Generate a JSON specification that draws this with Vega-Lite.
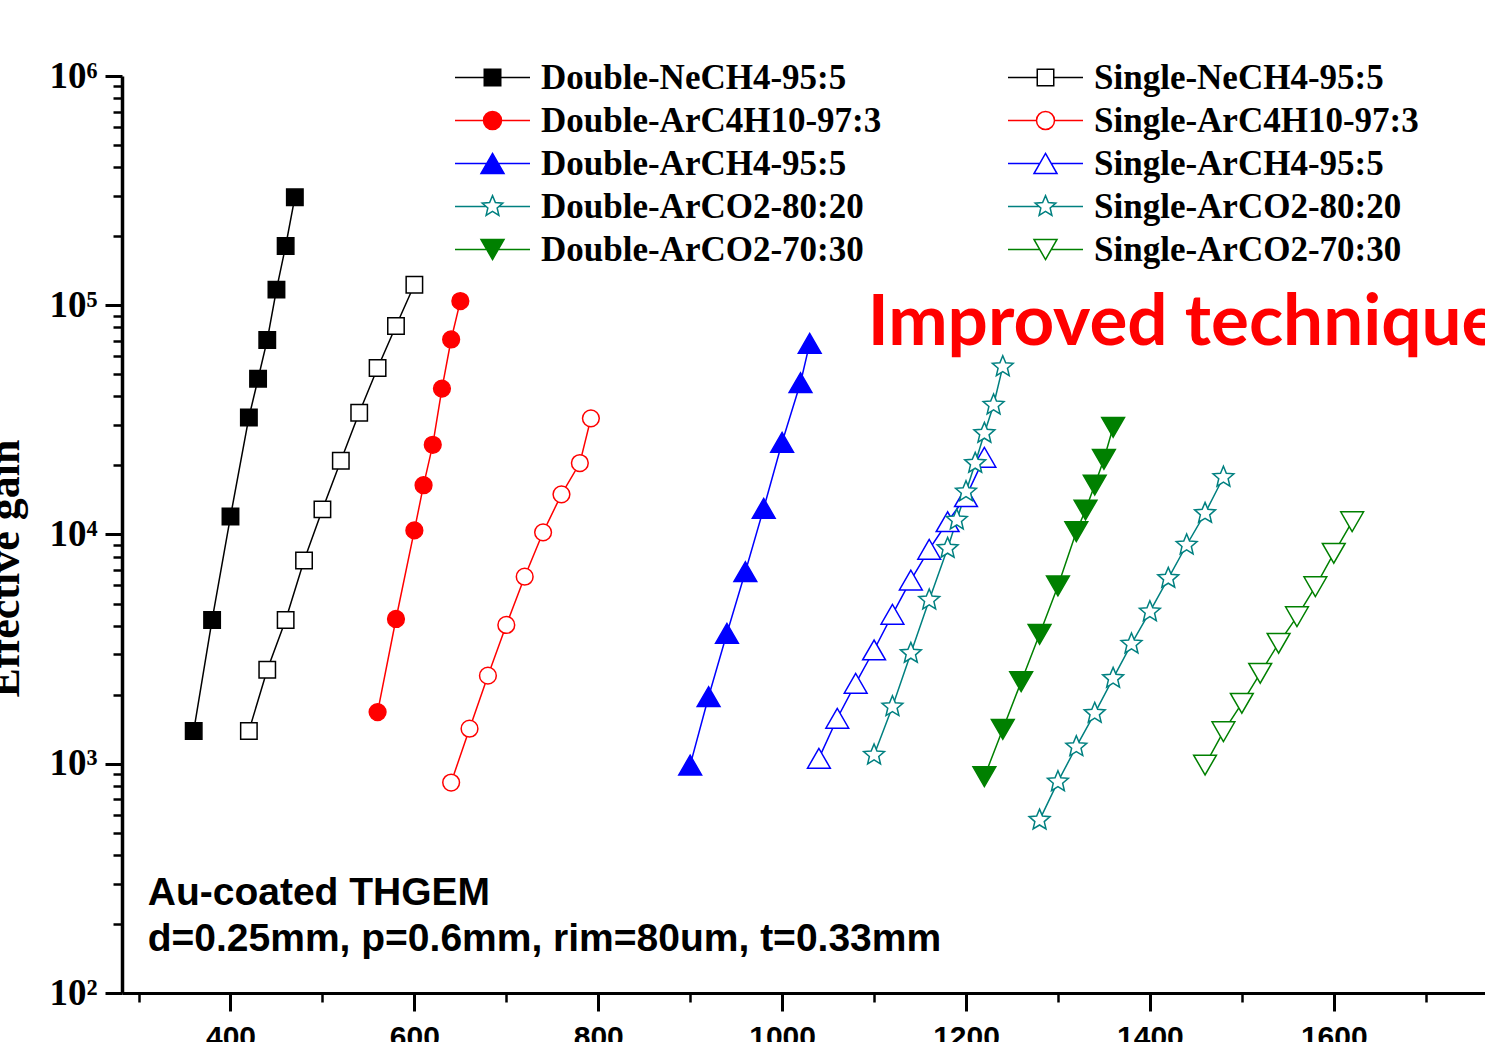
{
  "$schema": "https://vega.github.io/schema/vega-lite/v6.json",
  "autosize": {"type": "none"},
  "padding": {"left": 122, "top": 76, "right": 0, "bottom": 49},
  "width": 1363,
  "height": 917,
  "background": "white",
  "config": {"view": {"stroke": null}},
  "datasets": {
    "gain": [
      {"series": "Double-NeCH4-95:5", "voltage": 360, "gain": 1390},
      {"series": "Double-NeCH4-95:5", "voltage": 380, "gain": 4240},
      {"series": "Double-NeCH4-95:5", "voltage": 400, "gain": 11980},
      {"series": "Double-NeCH4-95:5", "voltage": 420, "gain": 32400},
      {"series": "Double-NeCH4-95:5", "voltage": 430, "gain": 47800},
      {"series": "Double-NeCH4-95:5", "voltage": 440, "gain": 70600},
      {"series": "Double-NeCH4-95:5", "voltage": 450, "gain": 117000},
      {"series": "Double-NeCH4-95:5", "voltage": 460, "gain": 181300},
      {"series": "Double-NeCH4-95:5", "voltage": 470, "gain": 295800},
      {"series": "Single-NeCH4-95:5", "voltage": 420, "gain": 1390},
      {"series": "Single-NeCH4-95:5", "voltage": 440, "gain": 2570},
      {"series": "Single-NeCH4-95:5", "voltage": 460, "gain": 4240},
      {"series": "Single-NeCH4-95:5", "voltage": 480, "gain": 7700},
      {"series": "Single-NeCH4-95:5", "voltage": 500, "gain": 12870},
      {"series": "Single-NeCH4-95:5", "voltage": 520, "gain": 20980},
      {"series": "Single-NeCH4-95:5", "voltage": 540, "gain": 33990},
      {"series": "Single-NeCH4-95:5", "voltage": 560, "gain": 53240},
      {"series": "Single-NeCH4-95:5", "voltage": 580, "gain": 81200},
      {"series": "Single-NeCH4-95:5", "voltage": 600, "gain": 122800},
      {"series": "Double-ArC4H10-97:3", "voltage": 560, "gain": 1680},
      {"series": "Double-ArC4H10-97:3", "voltage": 580, "gain": 4280},
      {"series": "Double-ArC4H10-97:3", "voltage": 600, "gain": 10420},
      {"series": "Double-ArC4H10-97:3", "voltage": 610, "gain": 16410},
      {"series": "Double-ArC4H10-97:3", "voltage": 620, "gain": 24620},
      {"series": "Double-ArC4H10-97:3", "voltage": 630, "gain": 43290},
      {"series": "Double-ArC4H10-97:3", "voltage": 640, "gain": 70900},
      {"series": "Double-ArC4H10-97:3", "voltage": 650, "gain": 104300},
      {"series": "Single-ArC4H10-97:3", "voltage": 640, "gain": 828},
      {"series": "Single-ArC4H10-97:3", "voltage": 660, "gain": 1422},
      {"series": "Single-ArC4H10-97:3", "voltage": 680, "gain": 2422},
      {"series": "Single-ArC4H10-97:3", "voltage": 700, "gain": 4030},
      {"series": "Single-ArC4H10-97:3", "voltage": 720, "gain": 6544},
      {"series": "Single-ArC4H10-97:3", "voltage": 740, "gain": 10220},
      {"series": "Single-ArC4H10-97:3", "voltage": 760, "gain": 14970},
      {"series": "Single-ArC4H10-97:3", "voltage": 780, "gain": 20500},
      {"series": "Single-ArC4H10-97:3", "voltage": 792, "gain": 32120},
      {"series": "Double-ArCH4-95:5", "voltage": 900, "gain": 987},
      {"series": "Double-ArCH4-95:5", "voltage": 920, "gain": 1961},
      {"series": "Double-ArCH4-95:5", "voltage": 940, "gain": 3707},
      {"series": "Double-ArCH4-95:5", "voltage": 960, "gain": 6880},
      {"series": "Double-ArCH4-95:5", "voltage": 980, "gain": 13010},
      {"series": "Double-ArCH4-95:5", "voltage": 1000, "gain": 25250},
      {"series": "Double-ArCH4-95:5", "voltage": 1020, "gain": 45940},
      {"series": "Double-ArCH4-95:5", "voltage": 1030, "gain": 68230},
      {"series": "Single-ArCH4-95:5", "voltage": 1040, "gain": 1056},
      {"series": "Single-ArCH4-95:5", "voltage": 1060, "gain": 1579},
      {"series": "Single-ArCH4-95:5", "voltage": 1080, "gain": 2243},
      {"series": "Single-ArCH4-95:5", "voltage": 1100, "gain": 3135},
      {"series": "Single-ArCH4-95:5", "voltage": 1120, "gain": 4486},
      {"series": "Single-ArCH4-95:5", "voltage": 1140, "gain": 6330},
      {"series": "Single-ArCH4-95:5", "voltage": 1160, "gain": 8620},
      {"series": "Single-ArCH4-95:5", "voltage": 1180, "gain": 11370},
      {"series": "Single-ArCH4-95:5", "voltage": 1200, "gain": 14620},
      {"series": "Single-ArCH4-95:5", "voltage": 1220, "gain": 21710},
      {"series": "Double-ArCO2-80:20", "voltage": 1100, "gain": 1092},
      {"series": "Double-ArCO2-80:20", "voltage": 1120, "gain": 1774},
      {"series": "Double-ArCO2-80:20", "voltage": 1140, "gain": 3032},
      {"series": "Double-ArCO2-80:20", "voltage": 1160, "gain": 5178},
      {"series": "Double-ArCO2-80:20", "voltage": 1180, "gain": 8705},
      {"series": "Double-ArCO2-80:20", "voltage": 1190, "gain": 11570},
      {"series": "Double-ArCO2-80:20", "voltage": 1200, "gain": 15370},
      {"series": "Double-ArCO2-80:20", "voltage": 1210, "gain": 20440},
      {"series": "Double-ArCO2-80:20", "voltage": 1220, "gain": 27630},
      {"series": "Double-ArCO2-80:20", "voltage": 1230, "gain": 36720},
      {"series": "Double-ArCO2-80:20", "voltage": 1240, "gain": 53950},
      {"series": "Single-ArCO2-80:20", "voltage": 1280, "gain": 568},
      {"series": "Single-ArCO2-80:20", "voltage": 1300, "gain": 835},
      {"series": "Single-ArCO2-80:20", "voltage": 1320, "gain": 1187},
      {"series": "Single-ArCO2-80:20", "voltage": 1340, "gain": 1660},
      {"series": "Single-ArCO2-80:20", "voltage": 1360, "gain": 2359},
      {"series": "Single-ArCO2-80:20", "voltage": 1380, "gain": 3330},
      {"series": "Single-ArCO2-80:20", "voltage": 1400, "gain": 4605},
      {"series": "Single-ArCO2-80:20", "voltage": 1420, "gain": 6440},
      {"series": "Single-ArCO2-80:20", "voltage": 1440, "gain": 9000},
      {"series": "Single-ArCO2-80:20", "voltage": 1460, "gain": 12370},
      {"series": "Single-ArCO2-80:20", "voltage": 1480, "gain": 17770},
      {"series": "Double-ArCO2-70:30", "voltage": 1220, "gain": 878},
      {"series": "Double-ArCO2-70:30", "voltage": 1240, "gain": 1413},
      {"series": "Double-ArCO2-70:30", "voltage": 1260, "gain": 2279},
      {"series": "Double-ArCO2-70:30", "voltage": 1280, "gain": 3669},
      {"series": "Double-ArCO2-70:30", "voltage": 1300, "gain": 5962},
      {"series": "Double-ArCO2-70:30", "voltage": 1320, "gain": 10290},
      {"series": "Double-ArCO2-70:30", "voltage": 1330, "gain": 12790},
      {"series": "Double-ArCO2-70:30", "voltage": 1340, "gain": 16440},
      {"series": "Double-ArCO2-70:30", "voltage": 1350, "gain": 21280},
      {"series": "Double-ArCO2-70:30", "voltage": 1360, "gain": 29350},
      {"series": "Single-ArCO2-70:30", "voltage": 1460, "gain": 987},
      {"series": "Single-ArCO2-70:30", "voltage": 1480, "gain": 1380},
      {"series": "Single-ArCO2-70:30", "voltage": 1500, "gain": 1835},
      {"series": "Single-ArCO2-70:30", "voltage": 1520, "gain": 2480},
      {"series": "Single-ArCO2-70:30", "voltage": 1540, "gain": 3353},
      {"series": "Single-ArCO2-70:30", "voltage": 1560, "gain": 4379},
      {"series": "Single-ArCO2-70:30", "voltage": 1580, "gain": 5921},
      {"series": "Single-ArCO2-70:30", "voltage": 1600, "gain": 8279},
      {"series": "Single-ArCO2-70:30", "voltage": 1620, "gain": 11370}
    ]
  },
  "data": {"name": "gain"},
  "resolve": {"axis": {"x": "independent", "y": "independent"}},
  "layer": [
    {
      "mark": {"type": "line", "strokeWidth": 1.5},
      "encoding": {
        "x": {
          "field": "voltage", "type": "quantitative",
          "scale": {"domain": [282, 1764.5], "nice": false, "zero": false},
          "axis": {
            "orient": "bottom", "title": null, "grid": false, "format": "d",
            "values": [400, 600, 800, 1000, 1200, 1400, 1600],
            "domainColor": "black", "domainWidth": 3,
            "tickColor": "black", "tickSize": 18, "tickWidth": 3,
            "labelFont": "Liberation Sans", "labelFontWeight": "bold", "labelFontSize": 30,
            "labelColor": "black", "labelPadding": 11, "labelFlush": false, "labelOverlap": false
          }
        },
        "y": {
          "field": "gain", "type": "quantitative",
          "scale": {"type": "log", "domain": [100, 1000000], "nice": false},
          "axis": {
            "orient": "left", "grid": false,
            "values": [100, 1000, 10000, 100000, 1000000],
            "labelExpr": "'10' + ['⁰','¹','²','³','⁴','⁵','⁶'][round(log(datum.value)/LN10)]",
            "domainColor": "black", "domainWidth": 3.5,
            "tickColor": "black", "tickSize": 17, "tickWidth": 3,
            "labelFont": "Liberation Serif", "labelFontWeight": "bold", "labelFontSize": 37,
            "labelColor": "black", "labelPadding": 8, "labelFlush": false, "labelOverlap": false,
            "labelBaseline": "middle",
            "title": "Effective gain", "titleFont": "Liberation Serif", "titleFontWeight": "bold",
            "titleFontSize": 44, "titleColor": "black", "titleX": -95, "titleY": 492,
            "titleAngle": 270, "titleAlign": "center", "titleBaseline": "bottom"
          }
        },
        "color": {
          "field": "series", "type": "nominal",
          "scale": {
            "domain": ["Double-NeCH4-95:5", "Double-ArC4H10-97:3", "Double-ArCH4-95:5", "Double-ArCO2-80:20", "Double-ArCO2-70:30", "Single-NeCH4-95:5", "Single-ArC4H10-97:3", "Single-ArCH4-95:5", "Single-ArCO2-80:20", "Single-ArCO2-70:30"],
            "range": ["#000000", "#ff0000", "#0000ff", "#008080", "#008000", "#000000", "#ff0000", "#0000ff", "#008080", "#008000"]
          },
          "legend": {
            "orient": "none", "legendX": 332, "legendY": -20, "title": null,
            "columns": 2, "padding": 0, "rowPadding": 0, "columnPadding": 125,
            "symbolSize": 5625, "clipHeight": 43, "symbolStrokeWidth": 1.5,
            "labelFont": "Liberation Serif", "labelFontSize": 35, "labelFontWeight": "bold",
            "labelColor": "black", "labelOffset": 10, "labelLimit": 1000, "labelBaseline": "middle",
            "encoding": {
              "symbols": {
                "shape": {"value": {"expr": "indexof(datum.value,'NeCH4')>=0 ? 'M-1,0H-0.22M0.22,0H1M-0.22,-0.22H0.22V0.22H-0.22Z' : indexof(datum.value,'C4H10')>=0 ? 'M-1,0H-0.24M0.24,0H1M-0.24,0A0.24,0.24,0,1,0,0.24,0A0.24,0.24,0,1,0,-0.24,0Z' : indexof(datum.value,'ArCH4')>=0 ? 'M-1,0H-0.153M0.153,0H1M0,-0.267L0.307,0.267H-0.307Z' : indexof(datum.value,'80:20')>=0 ? 'M-1,0H-0.171M0.171,0H1M0,-0.29L0.0767,-0.1056L0.2758,-0.0896L0.1241,0.0403L0.1705,0.2346L0,0.1305L-0.1705,0.2346L-0.1241,0.0403L-0.2758,-0.0896L-0.0767,-0.1056Z' : 'M-1,0H-0.153M0.153,0H1M0,0.267L0.307,-0.267H-0.307Z'"}},
                "fill": {"value": {"expr": "indexof(datum.value,'Double')==0 && indexof(datum.value,'80:20')<0 ? scale('color', datum.value) : 'white'"}},
                "stroke": {"value": {"expr": "scale('color', datum.value)"}},
                "fillOpacity": {"value": 1},
                "strokeOpacity": {"value": 1},
                "opacity": {"value": 1}
              }
            }
          }
        }
      }
    },
    {
      "mark": {"type": "point", "strokeWidth": 1.5, "opacity": 1},
      "encoding": {
        "x": {
          "field": "voltage", "type": "quantitative",
          "scale": {"domain": [282, 1764.5], "nice": false, "zero": false},
          "axis": {
            "orient": "bottom", "title": null, "grid": false, "labels": false, "domain": false,
            "values": [300, 500, 700, 900, 1100, 1300, 1500, 1700],
            "tickColor": "black", "tickSize": 9, "tickWidth": 2.5
          }
        },
        "y": {
          "field": "gain", "type": "quantitative",
          "scale": {"type": "log", "domain": [100, 1000000], "nice": false},
          "axis": {
            "orient": "left", "title": null, "grid": false, "labels": false, "domain": false,
            "values": [200, 300, 400, 500, 600, 700, 800, 900, 2000, 3000, 4000, 5000, 6000, 7000, 8000, 9000, 20000, 30000, 40000, 50000, 60000, 70000, 80000, 90000, 200000, 300000, 400000, 500000, 600000, 700000, 800000, 900000],
            "tickColor": "black", "tickSize": 9, "tickWidth": 2.5
          }
        },
        "shape": {
          "field": "series", "type": "nominal", "legend": null,
          "scale": {
            "domain": ["Double-NeCH4-95:5", "Single-NeCH4-95:5", "Double-ArC4H10-97:3", "Single-ArC4H10-97:3", "Double-ArCH4-95:5", "Single-ArCH4-95:5", "Double-ArCO2-80:20", "Single-ArCO2-80:20", "Double-ArCO2-70:30", "Single-ArCO2-70:30"],
            "range": ["square", "square", "circle", "circle", "triangle-up", "triangle-up", "M0,-1L0.2645,-0.3641L0.9511,-0.309L0.428,0.1391L0.5878,0.809L0,0.45L-0.5878,0.809L-0.428,0.1391L-0.9511,-0.309L-0.2645,-0.3641Z", "M0,-1L0.2645,-0.3641L0.9511,-0.309L0.428,0.1391L0.5878,0.809L0,0.45L-0.5878,0.809L-0.428,0.1391L-0.9511,-0.309L-0.2645,-0.3641Z", "triangle-down", "triangle-down"]
          }
        },
        "size": {
          "field": "series", "type": "nominal", "legend": null,
          "scale": {
            "type": "ordinal",
            "domain": ["Double-NeCH4-95:5", "Single-NeCH4-95:5", "Double-ArC4H10-97:3", "Single-ArC4H10-97:3", "Double-ArCH4-95:5", "Single-ArCH4-95:5", "Double-ArCO2-80:20", "Single-ArCO2-80:20", "Double-ArCO2-70:30", "Single-ArCO2-70:30"],
            "range": [270, 270, 280, 280, 520, 520, 480, 480, 520, 520]
          }
        },
        "stroke": {
          "field": "series", "type": "nominal", "legend": null,
          "scale": {
            "domain": ["Double-NeCH4-95:5", "Single-NeCH4-95:5", "Double-ArC4H10-97:3", "Single-ArC4H10-97:3", "Double-ArCH4-95:5", "Single-ArCH4-95:5", "Double-ArCO2-80:20", "Single-ArCO2-80:20", "Double-ArCO2-70:30", "Single-ArCO2-70:30"],
            "range": ["#000000", "#000000", "#ff0000", "#ff0000", "#0000ff", "#0000ff", "#008080", "#008080", "#008000", "#008000"]
          }
        },
        "fill": {
          "field": "series", "type": "nominal", "legend": null,
          "scale": {
            "domain": ["Double-NeCH4-95:5", "Single-NeCH4-95:5", "Double-ArC4H10-97:3", "Single-ArC4H10-97:3", "Double-ArCH4-95:5", "Single-ArCH4-95:5", "Double-ArCO2-80:20", "Single-ArCO2-80:20", "Double-ArCO2-70:30", "Single-ArCO2-70:30"],
            "range": ["#000000", "#ffffff", "#ff0000", "#ffffff", "#0000ff", "#ffffff", "#ffffff", "#ffffff", "#008000", "#ffffff"]
          }
        }
      }
    },
    {
      "data": {"values": [{"label": "Improved technique"}]},
      "mark": {"type": "text", "font": "Lato", "fontWeight": "bold", "fontSize": 71, "color": "#ff0000", "align": "left", "baseline": "alphabetic"},
      "encoding": {
        "x": {"datum": 1093, "type": "quantitative", "scale": {"domain": [282, 1764.5], "nice": false, "zero": false}, "axis": null},
        "y": {"datum": 67100, "type": "quantitative", "scale": {"type": "log", "domain": [100, 1000000], "nice": false}, "axis": null},
        "text": {"field": "label", "type": "nominal"}
      }
    },
    {
      "data": {"values": [{"label": "Au-coated THGEM"}]},
      "mark": {"type": "text", "font": "Liberation Sans", "fontWeight": "bold", "fontSize": 39, "color": "black", "align": "left", "baseline": "alphabetic"},
      "encoding": {
        "x": {"datum": 310, "type": "quantitative", "scale": {"domain": [282, 1764.5], "nice": false, "zero": false}, "axis": null},
        "y": {"datum": 242, "type": "quantitative", "scale": {"type": "log", "domain": [100, 1000000], "nice": false}, "axis": null},
        "text": {"field": "label", "type": "nominal"}
      }
    },
    {
      "data": {"values": [{"label": "d=0.25mm, p=0.6mm, rim=80um, t=0.33mm"}]},
      "mark": {"type": "text", "font": "Liberation Sans", "fontWeight": "bold", "fontSize": 39, "color": "black", "align": "left", "baseline": "alphabetic"},
      "encoding": {
        "x": {"datum": 310, "type": "quantitative", "scale": {"domain": [282, 1764.5], "nice": false, "zero": false}, "axis": null},
        "y": {"datum": 152.5, "type": "quantitative", "scale": {"type": "log", "domain": [100, 1000000], "nice": false}, "axis": null},
        "text": {"field": "label", "type": "nominal"}
      }
    }
  ]
}
